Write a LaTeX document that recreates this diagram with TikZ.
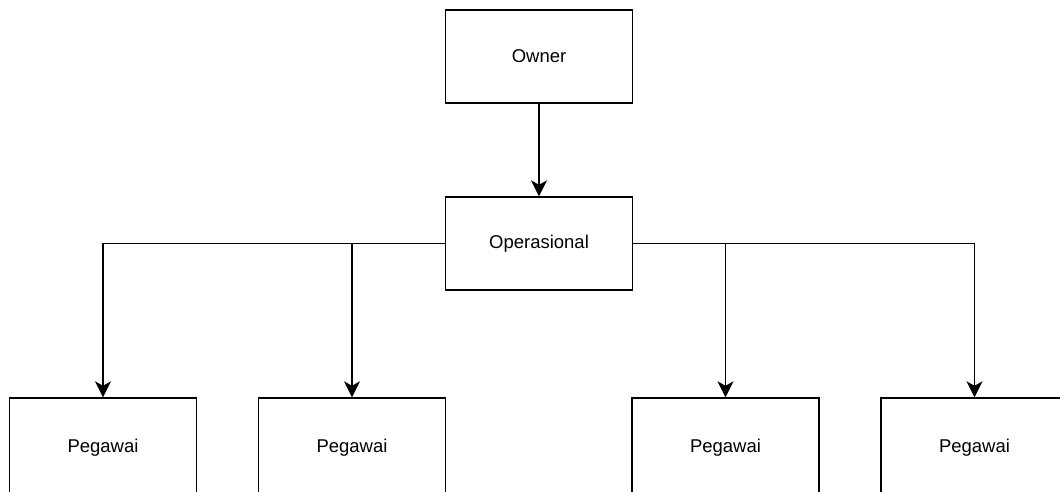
\documentclass[tikz,border=0pt]{standalone}
\usepackage{fontspec}
\setmainfont{Liberation Sans}
\usetikzlibrary{arrows.meta}
\begin{document}
\begin{tikzpicture}[x=1pt,y=-1pt,
  box/.style={draw=black, line width=1.4pt, fill=white, minimum width=187pt, minimum height=93pt, inner sep=0pt, font=\fontsize{18.5}{22}\selectfont},
  lowbox/.style={box, minimum height=99pt},
  conn/.style={draw=black, line width=1.4pt, -{Stealth[length=16pt,width=16pt,inset=4.5pt]}}]
\useasboundingbox[fill=white] (0,0) rectangle (1060,491);
\node[box] (owner) at (539,56.5) {Owner};
\node[box] (op) at (539,243.5) {Operasional};
\node[lowbox] (p1) at (103,447.5) {\raisebox{3pt}{Pegawai}};
\node[lowbox] (p2) at (352,447.5) {\raisebox{3pt}{Pegawai}};
\node[lowbox] (p3) at (725.5,447.5) {\raisebox{3pt}{Pegawai}};
\node[lowbox] (p4) at (974.5,447.5) {\raisebox{3pt}{Pegawai}};
\draw[conn] (owner.south) -- (op.north);
\draw[conn] (op.west) -| (p1.north);
\draw[conn] (op.west) -| (p2.north);
\draw[conn] (op.east) -| (p3.north);
\draw[conn] (op.east) -| (p4.north);
\end{tikzpicture}
\end{document}
